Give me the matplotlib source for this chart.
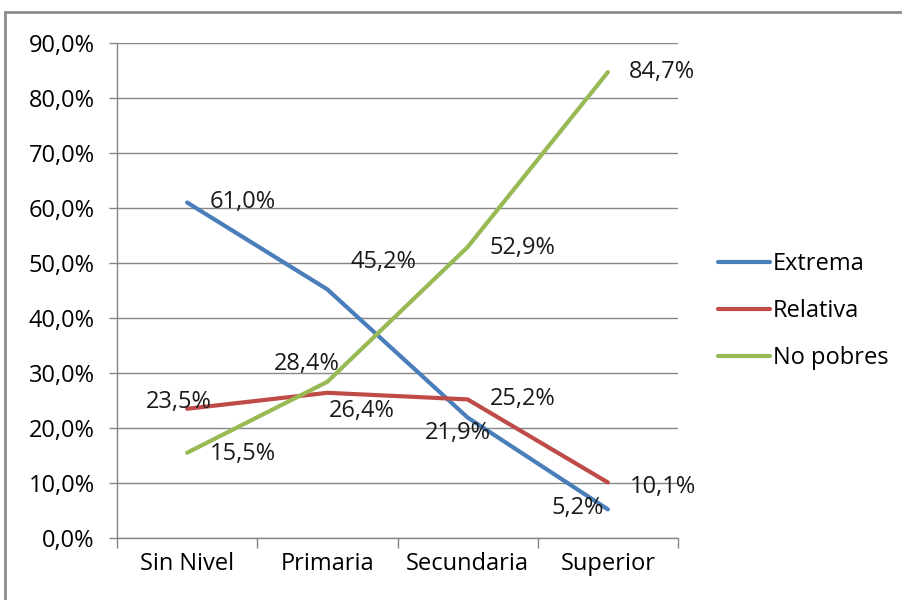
#!/usr/bin/env python3
"""Pobreza segun nivel educativo: line chart recreated in matplotlib."""

import matplotlib

matplotlib.use("Agg")
import matplotlib.pyplot as plt
from matplotlib.patches import Rectangle
from matplotlib.ticker import FuncFormatter, FixedLocator

categories = ["Sin Nivel", "Primaria", "Secundaria", "Superior"]
extrema = [61.0, 45.2, 21.9, 5.2]
relativa = [23.5, 26.4, 25.2, 10.1]
no_pobres = [15.5, 28.4, 52.9, 84.7]
series_names = ["Extrema", "Relativa", "No pobres"]

# label offsets in points (hand placed in the original)
offsets = {
    "Extrema": [(16, 0, "left"), (17, 20, "left"), (-7, -11, "center"), (-3, 1, "right")],
    "Relativa": [(-6, 5, "center"), (1, -13, "left"), (16, 0, "left"), (16, -3, "left")],
    "No pobres": [(16, -1, "left"), (9, 13, "right"), (16, -1, "left"), (15, 0, "left")],
}
colors = {"Extrema": "#4A7EBB", "Relativa": "#BE4B48", "No pobres": "#98B954"}
FS = 17

plt.rcParams["font.family"] = ["Open Sans", "DejaVu Sans"]

fig = plt.figure(figsize=(9.02, 6.0), dpi=100)
ax = fig.add_axes([117 / 902, 1 - 538 / 600, 561 / 902, 495 / 600])

# outer chart frame
fig.patches.append(
    Rectangle((5 / 902, -0.1), 1.2, 1 - 12 / 600 + 0.1, transform=fig.transFigure,
              fill=False, edgecolor="#8c8c8c", linewidth=2)
)

x = range(len(categories))
for name, values in zip(series_names, [extrema, relativa, no_pobres]):
    ax.plot(x, values, color=colors[name], linewidth=3, label=name,
            solid_capstyle="round", solid_joinstyle="round")
    for xi, v, (dx, dy, ha) in zip(x, values, offsets[name]):
        ax.annotate(f"{v:.1f}%".replace(".", ","), (xi, v), xytext=(dx, dy),
                    textcoords="offset points", ha=ha, va="center",
                    fontsize=FS, color="#1a1a1a")

ax.set_xlim(-0.5, len(categories) - 0.5)
ax.set_ylim(0, 90)
ax.yaxis.set_major_locator(FixedLocator(range(0, 91, 10)))
ax.yaxis.set_major_formatter(FuncFormatter(lambda v, p: f"{v:.1f}%".replace(".", ",")))
ax.set_xticks(list(x))
ax.set_xticklabels(categories)
ax.xaxis.set_minor_locator(FixedLocator([i - 0.5 for i in range(len(categories) + 1)]))
ax.tick_params(axis="x", which="major", length=0, pad=10, labelsize=FS)
ax.tick_params(axis="x", which="minor", length=7, color="#868686", width=1)
ax.tick_params(axis="y", length=6, color="#868686", width=1, labelsize=FS, pad=10)

ax.grid(axis="y", color="#868686", linewidth=1)
ax.set_axisbelow(True)
for side in ["top", "right"]:
    ax.spines[side].set_visible(False)
for side in ["left", "bottom"]:
    ax.spines[side].set_color("#868686")
    ax.spines[side].set_linewidth(1)

fig.legend(loc="upper left", bbox_to_anchor=(697 / 902, 1 - 231 / 600),
           frameon=False, fontsize=FS, handlelength=2.2, handletextpad=0.1,
           labelspacing=0.97)

fig.savefig("out.png", dpi=100)
